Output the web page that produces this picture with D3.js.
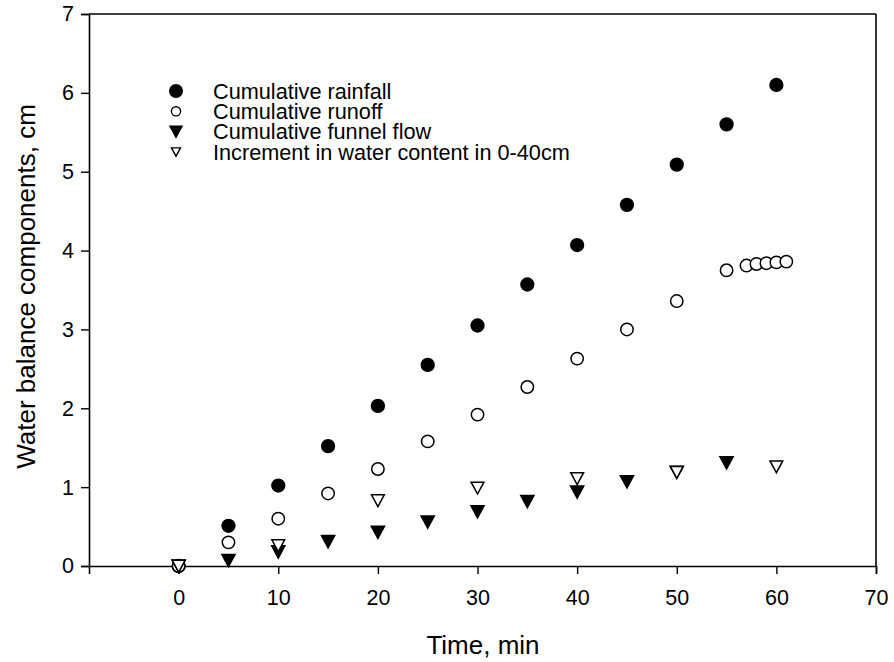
<!DOCTYPE html>
<html>
<head>
<meta charset="utf-8">
<script src="https://cdn.jsdelivr.net/npm/d3@7/dist/d3.min.js"></script>
<style>
  html, body { margin: 0; padding: 0; background: #fff; }
  svg { display: block; font-family: "Liberation Sans", Arial, sans-serif; }
</style>
</head>
<body>
<svg id="chart" width="894" height="662"></svg>
<script>
// Time (min) and water balance components (cm)
const rainTime   = [0, 5, 10, 15, 20, 25, 30, 35, 40, 45, 50, 55, 60];
const rainfall   = [0, 0.51, 1.02, 1.52, 2.03, 2.55, 3.05, 3.57, 4.07, 4.58, 5.09, 5.60, 6.10];

const runoffTime = [0, 5, 10, 15, 20, 25, 30, 35, 40, 45, 50, 55, 57, 58, 59, 60, 61];
const runoff     = [0, 0.30, 0.60, 0.92, 1.23, 1.58, 1.92, 2.27, 2.63, 3.00, 3.36, 3.75, 3.81, 3.83, 3.84, 3.85, 3.86];

const funnelTime = [0, 5, 10, 15, 20, 25, 30, 35, 40, 45, 50, 55];
const funnelFlow = [0, 0.07, 0.18, 0.31, 0.43, 0.56, 0.69, 0.82, 0.94, 1.07, 1.19, 1.31];

const storeTime  = [0, 10, 20, 30, 40, 50, 60];
const storeIncr  = [0, 0.26, 0.83, 0.99, 1.11, 1.19, 1.26];

const xTicks = [0, 10, 20, 30, 40, 50, 60, 70];
const yTicks = [0, 1, 2, 3, 4, 5, 6, 7];

const seriesLabels = [
  "Cumulative rainfall",
  "Cumulative runoff",
  "Cumulative funnel flow",
  "Increment in water content in 0-40cm"
];

const svg = d3.select("#chart");
const plotL = 89, plotR = 876, plotT = 14, plotB = 566;

const x = d3.scaleLinear().domain([-9, 70]).range([plotL, plotR]);
const y = d3.scaleLinear().domain([0, 7]).range([plotB, plotT]);

// frame: top and right edges
svg.append("line").attr("x1", plotL).attr("x2", plotR).attr("y1", plotT).attr("y2", plotT)
  .attr("stroke", "#000").attr("stroke-width", 1.6);
svg.append("line").attr("x1", plotR).attr("x2", plotR).attr("y1", plotT).attr("y2", plotB)
  .attr("stroke", "#000").attr("stroke-width", 1.6);

const xAxis = svg.append("g").attr("transform", `translate(0,${plotB})`)
  .call(d3.axisBottom(x).tickValues(xTicks).tickSize(8).tickPadding(16).tickFormat(d3.format("d")));
const yAxis = svg.append("g").attr("transform", `translate(${plotL},0)`)
  .call(d3.axisLeft(y).tickValues(yTicks).tickSize(8).tickPadding(7).tickFormat(d3.format("d")));

[xAxis, yAxis].forEach(g => {
  g.select(".domain").attr("stroke", "#000").attr("stroke-width", 1.6);
  g.selectAll(".tick line").attr("stroke", "#000").attr("stroke-width", 1.4);
  g.selectAll(".tick text").attr("fill", "#000")
    .style("font-family", "'Liberation Sans', Arial, sans-serif").style("font-size", "21.5px");
});

// axis titles
svg.append("text").attr("x", 483).attr("y", 654)
  .attr("text-anchor", "middle").style("font-size", "26px").text("Time, min");
svg.append("text").attr("transform", `translate(35,286.5) rotate(-90)`)
  .attr("text-anchor", "middle").style("font-size", "26px").text("Water balance components, cm");

// marker shapes
const circle = r => `M${-r},0A${r},${r} 0 1,0 ${r},0A${r},${r} 0 1,0 ${-r},0Z`;
const triDown = s => `M${-s},${-s * 0.9}L${s},${-s * 0.9}L0,${s * 0.95}Z`;

function drawSeries(xs, ys, path, fill, stroke) {
  svg.append("g").selectAll("path").data(xs.map((t, i) => [t, ys[i]])).join("path")
    .attr("transform", d => `translate(${x(d[0])},${y(d[1])})`)
    .attr("d", path)
    .attr("fill", fill).attr("stroke", stroke).attr("stroke-width", 1.5);
}

drawSeries(rainTime, rainfall, circle(6.4), "#000", "#000");
drawSeries(runoffTime, runoff, circle(6.2), "#fff", "#000");
drawSeries(funnelTime, funnelFlow, triDown(6.6), "#000", "#000");
drawSeries(storeTime, storeIncr, triDown(6.4), "#fff", "#000");

// legend
const legendShapes = [
  [circle(6.3), "#000"],
  [circle(4.6), "#fff"],
  [triDown(6), "#000"],
  [triDown(4.5), "#fff"]
];
const lg = svg.append("g");
seriesLabels.forEach((lab, i) => {
  const yy = 91 + i * 20.3;
  lg.append("path").attr("transform", `translate(176,${yy})`)
    .attr("d", legendShapes[i][0]).attr("fill", legendShapes[i][1])
    .attr("stroke", "#000").attr("stroke-width", 1.4);
  lg.append("text").attr("x", 213).attr("y", yy).attr("dy", "0.36em")
    .style("font-size", "21.7px").text(lab);
});
</script>
</body>
</html>
